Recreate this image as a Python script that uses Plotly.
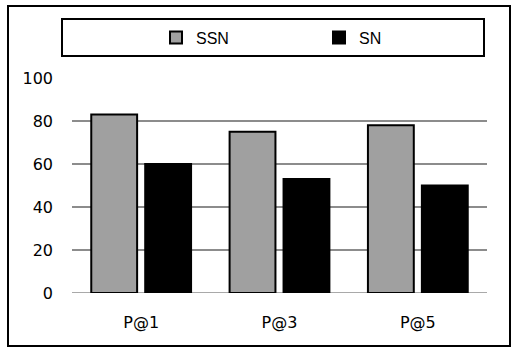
import plotly.graph_objects as go

categories = ["P@1", "P@3", "P@5"]
ssn_values = [83, 75, 78]
sn_values = [60, 53, 50]
y_ticks = [0, 20, 40, 60, 80, 100]

W, H = 524, 357
L, R, T, B = 72, 37, 78, 64
pw, ph = W - L - R, H - T - B

def px_x(x):
    return (x - L) / pw

def px_y(y):
    return (H - B - y) / ph

fig = go.Figure()
fig.add_trace(go.Bar(name="SSN", x=categories, y=ssn_values,
                     marker=dict(color="#a0a0a0", line=dict(color="black", width=2))))
fig.add_trace(go.Bar(name="SN", x=categories, y=sn_values,
                     marker=dict(color="black", line=dict(color="black", width=2))))

fig.update_layout(
    width=W, height=H,
    margin=dict(l=L, r=R, t=T, b=B, autoexpand=False),
    paper_bgcolor="white", plot_bgcolor="white",
    barmode="group", bargap=0.22, bargroupgap=0.15,
    font=dict(family="DejaVu Sans", size=16, color="black"),
    legend=dict(orientation="h", x=px_x(156), xanchor="left",
                y=px_y(37.5), yanchor="middle",
                entrywidth=118, entrywidthmode="pixels",
                font=dict(family="Liberation Sans", size=16),
                bgcolor="rgba(0,0,0,0)", itemclick=False),
    showlegend=True,
    xaxis=dict(showgrid=False, showline=False, ticks="", ticklabelstandoff=18,
               tickfont=dict(size=16)),
    yaxis=dict(range=[0, 100], tickvals=y_ticks, showgrid=True, gridcolor="#8c8c8c",
               gridwidth=1.5, zeroline=False, showline=False, ticks="",
               ticklabelstandoff=18, tickfont=dict(size=16)),
    shapes=[
        dict(type="rect", xref="paper", yref="paper",
             x0=px_x(8), x1=px_x(510), y0=px_y(346), y1=px_y(6),
             line=dict(color="black", width=2), layer="below"),
        dict(type="rect", xref="paper", yref="paper",
             x0=px_x(62), x1=px_x(484), y0=px_y(56), y1=px_y(19),
             line=dict(color="black", width=2), layer="below"),
        dict(type="line", xref="paper", yref="y", x0=0, x1=1, y0=0, y1=0,
             line=dict(color="#8c8c8c", width=1.5), layer="below"),
    ],
)

fig.write_html("out.html", config={"displayModeBar": False},
               post_script="document.body.style.margin='0';")
